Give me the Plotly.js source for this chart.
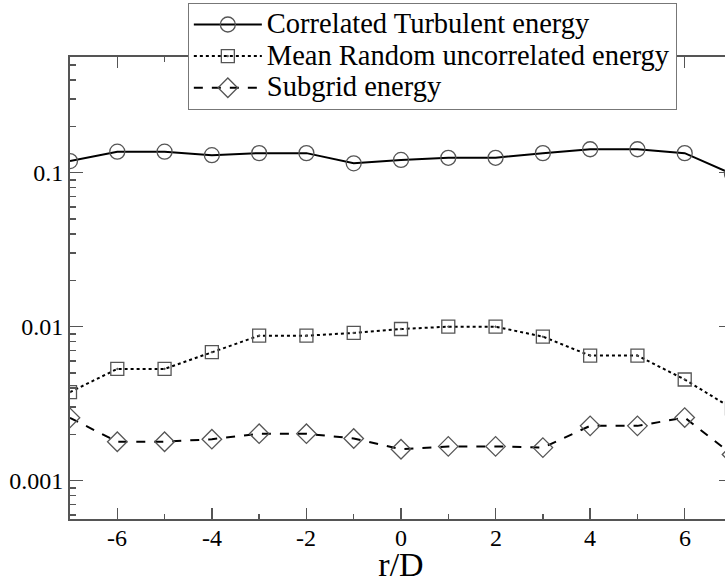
<!DOCTYPE html>
<html>
<head>
<meta charset="utf-8">
<script src="https://cdn.plot.ly/plotly-3.0.1.min.js"></script>
<style>
  html, body { margin: 0; padding: 0; overflow: hidden; background: #fff; }
  #chart { width: 740px; height: 583px; }
</style>
</head>
<body>
<div id="chart"></div>
<script>
// Radial position r/D
const rD = [-7, -6, -5, -4, -3, -2, -1, 0, 1, 2, 3, 4, 5, 6, 7];

// Energy components along the radial traverse
const correlatedTurbulent = [0.119, 0.137, 0.137, 0.130, 0.134, 0.134, 0.115, 0.121, 0.125, 0.125, 0.134, 0.142, 0.142, 0.134, 0.098];
const meanRandomUncorrelated = [0.00376, 0.00532, 0.00532, 0.00683, 0.00874, 0.00874, 0.00911, 0.00966, 0.0100, 0.0100, 0.00862, 0.00649, 0.00649, 0.00454, 0.00295];
const subgrid = [0.00256, 0.00179, 0.00179, 0.00186, 0.00202, 0.00202, 0.00188, 0.00160, 0.00167, 0.00167, 0.00164, 0.00227, 0.00227, 0.00257, 0.00148];

const seriesNames = ['Correlated Turbulent energy', 'Mean Random uncorrelated energy', 'Subgrid energy'];

// Axis ticks
const xTickVals = [-6, -4, -2, 0, 2, 4, 6];
const xTickText = ['-6', '-4', '-2', '0', '2', '4', '6'];
const yTickVals = [0.001, 0.01, 0.1];
const yTickText = ['0.001', '0.01', '0.1'];

// minor log ticks: 2..9 within each decade shown
const yMinorVals = [];
[0.0001, 0.001, 0.01, 0.1].forEach(d => {
  for (let k = 2; k <= 9; k++) yMinorVals.push(+(k * d).toPrecision(3));
});

const serif = '"Liberation Serif", serif';
const markerEdge = '#555';

// legend entries are set a bit larger than the row pitch
const legendName = s => '<span style="font-size:28.5px">' + s + '</span>';

const traces = [
  {
    x: rD, y: correlatedTurbulent, name: legendName(seriesNames[0]),
    mode: 'lines+markers',
    line: { color: '#000', width: 2, dash: 'solid' },
    marker: { symbol: 'circle-open', size: 15, color: markerEdge, line: { width: 1.3, color: markerEdge } }
  },
  {
    x: rD, y: meanRandomUncorrelated, name: legendName(seriesNames[1]),
    mode: 'lines+markers',
    line: { color: '#000', width: 2, dash: 'dot' },
    marker: { symbol: 'square-open-dot', size: 13, color: markerEdge, line: { width: 1.3, color: markerEdge } }
  },
  {
    x: rD, y: subgrid, name: legendName(seriesNames[2]),
    mode: 'lines+markers',
    line: { color: '#000', width: 2, dash: 'dash' },
    marker: { symbol: 'diamond-open', size: 15, color: markerEdge, line: { width: 1.3, color: markerEdge } }
  }
];

const axisColor = '#555';

// x tick labels, placed on the x scale just under the frame
const xLabelAnnotations = xTickVals.map((v, i) => ({
  x: v, xref: 'x', y: 0, yref: 'paper',
  yanchor: 'middle', xanchor: 'center', yshift: -19,
  text: xTickText[i], showarrow: false,
  font: { family: serif, size: 24, color: '#000' }
}));

const layout = {
  width: 740, height: 583,
  margin: { l: 70, r: 8, t: 57, b: 64, autoexpand: false },
  paper_bgcolor: '#fff', plot_bgcolor: '#fff',
  font: { family: serif, color: '#000', size: 24 },
  showlegend: true,
  legend: {
    x: 0.178, y: 1.1175, xanchor: 'left', yanchor: 'top',
    bgcolor: '#fff', bordercolor: '#777', borderwidth: 1,
    font: { family: serif, size: 22, color: '#000' },
    itemwidth: 68
  },
  annotations: xLabelAnnotations,
  xaxis: {
    range: [-7, 7],
    showline: true, linecolor: axisColor, linewidth: 2, mirror: 'allticks',
    showgrid: false, zeroline: false,
    tickmode: 'array', tickvals: xTickVals, ticktext: xTickText,
    showticklabels: false,
    ticks: 'inside', ticklen: 11, tickwidth: 1.5, tickcolor: axisColor,
    minor: { ticks: 'inside', dtick: 1, tick0: -7, ticklen: 5, tickwidth: 1.5, tickcolor: axisColor, showgrid: false },
    title: { text: 'r/D', font: { family: serif, size: 34, color: '#000' }, standoff: 38 }
  },
  yaxis: {
    type: 'log',
    range: [-3.2487, -0.2487],
    showline: true, linecolor: axisColor, linewidth: 2, mirror: 'allticks',
    showgrid: false, zeroline: false,
    tickmode: 'array', tickvals: yTickVals, ticktext: yTickText,
    ticks: 'inside', ticklen: 13, tickwidth: 1.5, tickcolor: axisColor,
    minor: { ticks: 'inside', tickmode: 'array', tickvals: yMinorVals, ticklen: 6, tickwidth: 1.5, tickcolor: axisColor, showgrid: false },
    tickfont: { family: serif, size: 24, color: '#000' }
  }
};

Plotly.newPlot('chart', traces, layout, { displayModeBar: false, staticPlot: true });
</script>
</body>
</html>
